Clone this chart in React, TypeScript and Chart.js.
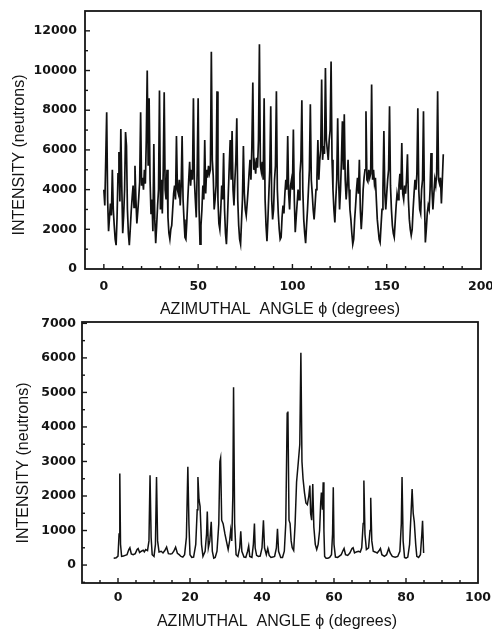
import React, { useEffect, useRef } from "react";
import { Chart, registerables } from "chart.js";

Chart.register(...registerables);

// ---------- data ----------
const TOP_START = 0;
const TOP_STEP = 0.5; // sampling grid of the scan (degrees)
const TOP_INTENSITY = [
  4000, 3200, 5500, 7900, 3500, 1900, 2600, 3300, 2700, 5000, 3000, 2200, 1500, 1200, 2600, 4800, 5900, 3400, 7050, 4200,
  1800, 2700, 4000, 6900, 6200, 3000, 1800, 1200, 2000, 2900, 3600, 4200, 3100, 5200, 3500, 2300, 2900, 3600, 4400, 7900,
  4200, 4600, 4000, 5000, 4300, 6500, 10000, 5200, 8600, 4500, 2800, 3500, 1900, 6300, 2500, 1300, 2200, 3200, 4000, 9000,
  3000, 4500, 2800, 5000, 8900, 4000, 3500, 5000, 2600, 1800, 1500, 2000, 2200, 3000, 3800, 4200, 3500, 6700, 4000, 3800,
  4500, 3200, 4200, 6700, 3500, 2500, 1600, 1500, 2400, 3500, 4500, 5400, 4200, 5000, 4500, 8600, 4500, 3500, 2600, 5000,
  8600, 3000, 1250, 2200, 3000, 4200, 3500, 6500, 3800, 5000, 4600, 5200, 4800, 5000, 10950, 5500, 4700, 3000, 3500, 4200,
  8950, 3500, 2300, 2000, 3000, 4200, 3500, 5850, 3000, 1800, 1250, 2400, 3800, 5200, 6500, 4500, 6950, 4000, 3200, 4500,
  5500, 7600, 3500, 2200, 1500, 1250, 2400, 3500, 6200, 3800, 3000, 2700, 3300, 4000, 4800, 5500, 4500, 6200, 9400, 5000,
  5300, 4800, 5600, 5100, 6500, 11330, 5200, 4900, 5400, 4500, 8600, 3500, 2200, 1400, 2500, 3800, 5000, 8200, 3500, 2500,
  3000, 4500, 5200, 8950, 4000, 2800, 2000, 1500, 1600, 2600, 3200, 2800, 3800, 4500, 4000, 6700, 3800, 3000, 4200, 4500,
  4000, 7030, 3500, 1850, 2600, 3300, 4000, 3500, 4800, 5500, 8500, 4000, 2500, 1800, 1300, 2200, 3000, 4000, 5000, 8300,
  4500, 3800, 3000, 2500, 3200, 4000, 4600, 6500, 4500, 5500, 6000, 9550, 5500, 6200, 5800, 10130, 6500, 6000, 5500, 6500,
  7000, 10460, 5500, 4000, 3000, 2350, 3500, 4500, 7600, 4500, 3000, 4000, 5500, 7450, 5000, 7800, 4500, 3500, 4200, 5500,
  4000, 3000, 2500, 1800, 1250, 1500, 2500, 3200, 4000, 4600, 3800, 5500, 3000, 2000, 2800, 4000, 4600, 5000, 7950, 4500,
  4400, 5000, 4600, 4800, 9300, 4500, 5000, 4300, 4600, 3500, 2500, 2000, 1500, 1340, 2200, 3000, 4000, 6950, 3800, 3000,
  3800, 4500, 5000, 8200, 4200, 3000, 2200, 1800, 1600, 2400, 3200, 3800, 3500, 4200, 4800, 4000, 6350, 3800, 3500, 4200,
  3800, 4500, 5780, 3500, 2500, 2000, 1700, 2000, 3000, 3800, 4500, 4000, 4800, 8100, 4000, 3000, 2800, 4000, 4500, 7950,
  3500, 1340, 2000, 2800, 3200, 3000, 4000, 5850, 4000, 3000, 3800, 4500, 4200, 4800, 8950, 4500, 4300, 4600, 3300, 4500,
  5780,
];
const TOP_X_TICKS = [0, 50, 100, 150, 200];
const TOP_Y_TICKS = [0, 2000, 4000, 6000, 8000, 10000, 12000];

const BOTTOM_ANGLE = [
  -1.2, -0.5, 0, 0.3, 0.5, 0.7, 1.0, 1.5, 2, 2.5, 3, 3.3, 3.7, 4.2, 4.8, 5.3, 5.6, 6, 6.5, 7, 7.3, 7.7, 8.2, 8.6, 8.9,
  9.2, 9.5, 10, 10.4, 10.7, 11.0, 11.4, 12, 12.5, 13, 13.5, 14, 14.6, 15, 15.5, 16, 16.5, 17, 17.5, 18, 18.5, 19, 19.4,
  19.7, 20, 20.5, 21, 21.6, 22, 22.2, 22.5, 22.8, 23.2, 23.6, 24.2, 24.6, 24.8, 25.1, 25.5, 25.9, 26.2, 26.6, 27, 27.5,
  28, 28.3, 28.5, 28.8, 29.2, 29.7, 30.2, 30.6, 31, 31.3, 31.6, 31.9, 32.1, 32.4, 32.8, 33.3, 33.8, 34.1, 34.4, 35, 35.5,
  36, 36.3, 36.6, 37.2, 37.6, 37.9, 38.1, 38.5, 39, 39.5, 40, 40.4, 40.7, 41.2, 41.6, 42, 42.5, 43, 43.5, 44, 44.3, 44.6,
  45.2, 45.7, 46.2, 46.6, 47, 47.2, 47.5, 47.8, 48.1, 48.4, 48.8, 49.2, 49.6, 50.1, 50.5, 50.8, 51.1, 51.4, 51.8, 52.2,
  52.6, 53, 53.3, 53.5, 53.8, 54.1, 54.4, 54.8, 55.2, 55.6, 56, 56.3, 56.5, 56.8, 57, 57.2, 57.4, 57.8, 58.3, 58.8, 59.3,
  59.6, 59.8, 60.0, 60.4, 61, 61.5, 62, 62.5, 62.8, 63.2, 63.8, 64.4, 65, 65.3, 65.7, 66.2, 66.8, 67.3, 67.7, 68.1, 68.3,
  68.6, 69, 69.6, 70, 70.2, 70.5, 70.9, 71.4, 72, 72.6, 72.9, 73.3, 74, 74.6, 75.2, 75.6, 76.2, 77, 77.7, 78.3, 78.7,
  78.9, 79.2, 79.6, 80, 80.5, 81, 81.4, 81.7, 82, 82.3, 82.7, 83, 83.5, 84, 84.4, 84.6, 84.9,
];
const BOTTOM_INTENSITY = [
  200, 210, 260, 900, 2650, 600, 250, 260, 280, 300, 450, 500, 320, 300, 330, 450, 480, 360, 400, 430, 380, 450, 420, 700, 2600,
  800, 300, 250, 600, 2550, 700, 380, 400, 350, 420, 520, 330, 320, 330, 400, 520, 340, 300, 250, 230, 300, 800, 2850,
  1200, 300, 220, 230, 600, 1600, 2550, 1900, 1700, 600, 250, 400, 900, 1550, 500, 700, 1250, 400, 200, 220, 400,
  1200, 3000, 3100, 1300, 1200, 900, 650, 450, 700, 1000, 700, 2000, 5150, 1200, 300, 250, 500, 980, 400, 230, 220,
  400, 550, 250, 220, 600, 1200, 500, 280, 250, 260, 500, 1300, 500, 300, 480, 280, 220, 230, 250, 500, 1050, 400,
  220, 220, 400, 1200, 4400, 4450, 1300, 1200, 700, 500, 420, 1200, 2400, 3000, 3500, 6150, 3000, 2500, 2100, 1800,
  1750, 2000, 2300, 1500, 1300, 2350, 1100, 600, 450, 600, 1000, 1800, 2100, 1600, 2400, 1000, 250, 200, 200, 220, 300,
  900, 2250, 600, 230, 220, 260, 300, 420, 480, 300, 280, 350, 480, 500, 350, 380, 400, 380, 500, 1200, 2450,
  900, 450, 500, 1000, 1950, 700, 400, 380, 350, 430, 480, 300, 250, 300, 480, 350, 250, 230, 250, 400, 1200,
  2550, 700, 220, 200, 230, 600, 1500, 2200, 1500, 1250, 600, 250, 220, 300, 900, 1280, 350,
];
const BOTTOM_X_TICKS = [0, 20, 40, 60, 80, 100];
const BOTTOM_Y_TICKS = [0, 1000, 2000, 3000, 4000, 5000, 6000, 7000];

const X_TITLE = "AZIMUTHAL  ANGLE \u03D5 (degrees)";
const Y_TITLE = "INTENSITY (neutrons)";

// ---------- plugin: frame, inward tick marks, axis titles ----------
const framePlugin = {
  id: "frameTicks",
  afterDraw(chart: any, _args: any, opts: any) {
    const { ctx, chartArea: a, scales } = chart;
    const xs = scales.x;
    const ys = scales.y;
    ctx.save();
    ctx.strokeStyle = "#161616";
    ctx.lineWidth = 1.8;
    ctx.strokeRect(a.left, a.top, a.right - a.left, a.bottom - a.top);

    ctx.lineWidth = 1.4;
    const nx = Math.round((xs.max - xs.min) / opts.xMinor);
    for (let i = 1; i < nx; i++) {
      const v = xs.min + i * opts.xMinor;
      const major = opts.xMajor.some((m: number) => Math.abs(m - v) < 1e-6);
      const px = xs.getPixelForValue(v);
      ctx.beginPath();
      ctx.moveTo(px, a.bottom);
      ctx.lineTo(px, a.bottom - (major ? 5 : 3));
      ctx.stroke();
    }
    const ny = Math.round((opts.yTop - opts.yFirst) / opts.yMinor);
    for (let i = 0; i <= ny; i++) {
      const v = opts.yFirst + i * opts.yMinor;
      if (v <= ys.min || v >= ys.max) continue;
      const major = opts.yMajor.some((m: number) => Math.abs(m - v) < 1e-6);
      const py = ys.getPixelForValue(v);
      ctx.beginPath();
      ctx.moveTo(a.left, py);
      ctx.lineTo(a.left + (major ? 5 : 3), py);
      ctx.stroke();
    }

    ctx.fillStyle = "#141414";
    ctx.font = "16px 'Liberation Sans', Arial, sans-serif";
    ctx.textAlign = "center";
    ctx.textBaseline = "middle";
    ctx.fillText(opts.xTitle, opts.xTitleX, opts.xTitleY);
    ctx.translate(opts.yTitleX, opts.yTitleY);
    ctx.rotate(-Math.PI / 2);
    ctx.fillText(opts.yTitle, 0, 0);
    ctx.restore();
  },
};

const tickFont = { family: "'DejaVu Sans', sans-serif", size: 12.5, weight: "bold" as const };
const plain = (v: any) => String(v);

function makeConfig(p: any) {
  return {
    type: "line" as const,
    data: {
      datasets: [
        {
          data: p.xs.map((x: number, i: number) => ({ x, y: p.ys[i] })),
          borderColor: "#111111",
          borderWidth: p.lineWidth,
          pointRadius: 0,
          tension: 0,
          fill: false,
        },
      ],
    },
    options: {
      animation: false,
      responsive: false,
      maintainAspectRatio: false,
      events: [],
      layout: { padding: { left: 0, right: p.padRight, top: p.padTop, bottom: 0 } },
      plugins: {
        legend: { display: false },
        tooltip: { enabled: false },
        frameTicks: p.frame,
      },
      scales: {
        x: {
          type: "linear",
          min: p.xMin,
          max: p.xMax,
          grid: { display: false, drawTicks: false },
          border: { display: false },
          ticks: { padding: p.xPad, font: tickFont, color: "#141414", maxRotation: 0, autoSkip: false, callback: plain },
          afterBuildTicks: (s: any) => {
            s.ticks = p.xTicks.map((v: number) => ({ value: v }));
          },
          afterFit: (s: any) => {
            s.height = p.xHeight;
            s.paddingLeft = 0;
            s.paddingRight = 0;
          },
        },
        y: {
          type: "linear",
          min: p.yMin,
          max: p.yMax,
          grid: { display: false, drawTicks: false },
          border: { display: false },
          ticks: { padding: p.yPad, font: tickFont, color: "#141414", autoSkip: false, callback: plain },
          afterBuildTicks: (s: any) => {
            s.ticks = p.yTicks.map((v: number) => ({ value: v }));
          },
          afterFit: (s: any) => {
            s.width = p.yWidth;
            s.paddingTop = 0;
            s.paddingBottom = 0;
          },
        },
      },
    },
    plugins: [framePlugin],
  };
}

export default function App() {
  const topRef = useRef<HTMLCanvasElement>(null);
  const botRef = useRef<HTMLCanvasElement>(null);

  useEffect(() => {
    const topXs = TOP_INTENSITY.map((_, i) => TOP_START + i * TOP_STEP);
    const top = new Chart(
      topRef.current as HTMLCanvasElement,
      makeConfig({
        xs: topXs,
        ys: TOP_INTENSITY,
        lineWidth: 1.7,
        padRight: 11,
        padTop: 11,
        xMin: -10,
        xMax: 200,
        yMin: 0,
        yMax: 13000,
        xTicks: TOP_X_TICKS,
        yTicks: TOP_Y_TICKS,
        xPad: 10,
        yPad: 8,
        xHeight: 51,
        yWidth: 85,
        frame: {
          xMinor: 10,
          xMajor: TOP_X_TICKS,
          yMinor: 1000,
          yFirst: 0,
          yTop: 13000,
          yMajor: TOP_Y_TICKS,
          xTitle: X_TITLE,
          yTitle: Y_TITLE,
          xTitleX: 280,
          xTitleY: 310,
          yTitleX: 20,
          yTitleY: 155,
        },
      }) as any
    );
    const bot = new Chart(
      botRef.current as HTMLCanvasElement,
      makeConfig({
        xs: BOTTOM_ANGLE,
        ys: BOTTOM_INTENSITY,
        lineWidth: 1.5,
        padRight: 14,
        padTop: 10,
        xMin: -10,
        xMax: 100,
        yMin: -520,
        yMax: 7040,
        xTicks: BOTTOM_X_TICKS,
        yTicks: BOTTOM_Y_TICKS,
        xPad: 7,
        yPad: 6,
        xHeight: 52,
        yWidth: 82,
        frame: {
          xMinor: 5,
          xMajor: BOTTOM_X_TICKS,
          yMinor: 500,
          yFirst: -500,
          yTop: 7000,
          yMajor: BOTTOM_Y_TICKS,
          xTitle: X_TITLE,
          yTitle: Y_TITLE,
          xTitleX: 277,
          xTitleY: 310,
          yTitleX: 24,
          yTitleY: 151,
        },
      }) as any
    );
    return () => {
      top.destroy();
      bot.destroy();
    };
  }, []);

  return (
    <div style={{ position: "absolute", left: 0, top: 0, width: 492, height: 635, background: "#fff" }}>
      <canvas ref={topRef} width={492} height={320} style={{ position: "absolute", left: 0, top: 0 }} />
      <canvas ref={botRef} width={492} height={323} style={{ position: "absolute", left: 0, top: 312 }} />
    </div>
  );
}
